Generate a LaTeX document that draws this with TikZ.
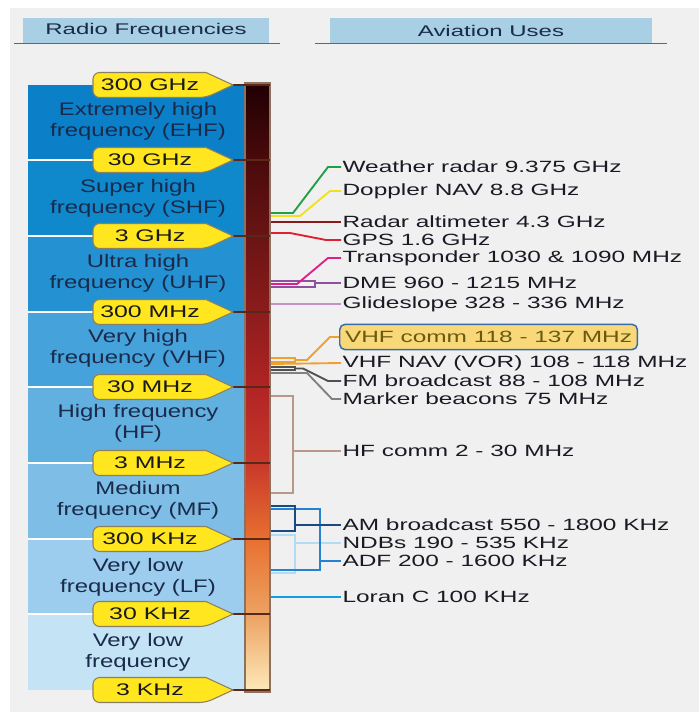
\documentclass[tikz,border=0pt]{standalone}
\usepackage{fontspec}
\setmainfont{Liberation Sans}
\newfontfamily\labf{Liberation Sans}[FakeStretch=1.5]
\newfontfamily\bandf{Liberation Sans}[FakeStretch=1.32]
\newfontfamily\callf{Liberation Sans}[FakeStretch=1.48]
\newfontfamily\headf{Liberation Sans}[FakeStretch=1.55]
\definecolor{bg}{HTML}{F0F0F0}
\definecolor{hdr}{HTML}{A8CFE4}
\definecolor{bandtxt}{HTML}{1A2A4A}
\definecolor{labtxt}{HTML}{1A1A24}
\definecolor{yel}{HTML}{FFE61E}
\definecolor{yelb}{HTML}{8C8060}
\definecolor{B1}{HTML}{0B80C8}
\definecolor{B2}{HTML}{1088CC}
\definecolor{B3}{HTML}{2492D2}
\definecolor{B4}{HTML}{46A2DA}
\definecolor{B5}{HTML}{62B0E0}
\definecolor{B6}{HTML}{7EBDE6}
\definecolor{B7}{HTML}{9CCDEE}
\definecolor{B8}{HTML}{C4E4F6}
\definecolor{g0}{HTML}{200003}
\definecolor{g1}{HTML}{4A0A0A}
\definecolor{g2}{HTML}{6A1414}
\definecolor{g3}{HTML}{8C1C1C}
\definecolor{g4}{HTML}{B02424}
\definecolor{g5}{HTML}{C8382A}
\definecolor{g6}{HTML}{E87030}
\definecolor{g7}{HTML}{ECA262}
\definecolor{g8}{HTML}{FDEABB}
\definecolor{barb}{HTML}{8C7060}
\definecolor{bline}{HTML}{5A2818}
\definecolor{cGreen}{HTML}{20A040}
\definecolor{cYel}{HTML}{F0E020}
\definecolor{cMaroon}{HTML}{8A1A1A}
\definecolor{cRed}{HTML}{E02030}
\definecolor{cMag}{HTML}{E0208A}
\definecolor{cPur}{HTML}{9050A0}
\definecolor{cGlide}{HTML}{C890C8}
\definecolor{cOr}{HTML}{F0A030}
\definecolor{cFM}{HTML}{505050}
\definecolor{cMB}{HTML}{808080}
\definecolor{cHF}{HTML}{B89888}
\definecolor{cAM}{HTML}{1A4A80}
\definecolor{cADF}{HTML}{2880D0}
\definecolor{cNDB}{HTML}{B0DCF4}
\definecolor{cLor}{HTML}{10A0E0}
\definecolor{vhfbox}{HTML}{F8D878}
\definecolor{vhfbord}{HTML}{3A6AA8}
\definecolor{vhftxt}{HTML}{6A5A10}
\begin{document}
\begin{tikzpicture}[x=0.75pt,y=-0.75pt,
  hdrtxt/.style={inner sep=1pt,text=bandtxt,font=\headf\fontsize{11.6}{14}\selectfont},
  hline/.style={draw=black!60,line width=0.8pt},
  bandtxt/.style={align=center,inner sep=1pt,text=bandtxt,font=\bandf\fontsize{13.6}{15.5}\selectfont},
  lab/.style={anchor=west,inner sep=1pt,text=labtxt,font=\labf\fontsize{12.2}{14}\selectfont},
  callbox/.style={fill=yel,draw=yelb,line width=0.8pt},
  calltxt/.style={inner sep=1pt,text=black!90,font=\callf\fontsize{12.6}{14}\selectfont},
  conn/.style={line width=1.4pt},
  bndline/.style={draw=bline,line width=1.3pt},
  wline/.style={draw=white,line width=1.2pt}]
\useasboundingbox (0,0) rectangle (699,712);
\fill[bg] (10,8) rectangle (699,712);
% headers
\fill[hdr] (23,18) rectangle (269,43);
\node[hdrtxt] (h1) at (146,30.5) {Radio Frequencies};
\draw[hline] (14,43.5) -- (280,43.5);
\fill[hdr] (330,18) rectangle (652,43);
\node[hdrtxt] (h2) at (491,30.5) {Aviation Uses};
\draw[hline] (315,43.5) -- (667,43.5);
% bands
\fill[B1] (28,85) rectangle (245,160);
\fill[B2] (28,160) rectangle (245,236);
\fill[B3] (28,236) rectangle (245,312);
\fill[B4] (28,312) rectangle (245,387);
\fill[B5] (28,387) rectangle (245,463);
\fill[B6] (28,463) rectangle (245,539);
\fill[B7] (28,539) rectangle (245,614);
\fill[B8] (28,614) rectangle (245,690);
\node[bandtxt] (b1) at (138,121) {Extremely high\\frequency (EHF)};
\node[bandtxt] (b2) at (138,198) {Super high\\frequency (SHF)};
\node[bandtxt] (b3) at (138,273) {Ultra high\\frequency (UHF)};
\node[bandtxt] (b4) at (138,348) {Very high\\frequency (VHF)};
\node[bandtxt] (b5) at (138,423) {High frequency\\(HF)};
\node[bandtxt] (b6) at (138,500) {Medium\\frequency (MF)};
\node[bandtxt] (b7) at (138,577) {Very low\\frequency (LF)};
\node[bandtxt] (b8) at (138,652) {Very low\\frequency};
% bar
\shade[top color=g0,bottom color=g1] (245,83) rectangle (270,160);
\shade[top color=g1,bottom color=g2] (245,159.8) rectangle (270,236);
\shade[top color=g2,bottom color=g3] (245,235.8) rectangle (270,312);
\shade[top color=g3,bottom color=g4] (245,311.8) rectangle (270,387);
\shade[top color=g4,bottom color=g5] (245,386.8) rectangle (270,463);
\shade[top color=g5,bottom color=g6] (245,462.8) rectangle (270,539);
\shade[top color=g6,bottom color=g7] (245,538.8) rectangle (270,614);
\shade[top color=g7,bottom color=g8] (245,613.8) rectangle (270,692);
\draw[barb,line width=0.9pt] (245,83) rectangle (270,692);
% boundaries and callouts
\foreach \y in {160,236,312,387,463,539,614}{
  \draw[wline] (28,\y) -- (95,\y);
}
\foreach \y/\t/\n in {85/300 GHz/1,160/30 GHz/2,236/3 GHz/3,312/300 MHz/4,387/30 MHz/5,463/3 MHz/6,539/300 KHz/7,614/30 KHz/8,690/3 KHz/9}{
  \draw[bndline] (232,\y) -- (270,\y);
  \draw[callbox] (233,\y) -- (206,\y-12.5) [rounded corners=5pt] -- (93,\y-12.5) -- (93,\y+12.5) -- (206,\y+12.5) [sharp corners] -- cycle;
  \node[calltxt] (c\n) at (150,\y) {\t};
}
% labels
\node[lab] (W) at (341,167) {Weather radar 9.375 GHz};
\node[lab] (D) at (341,191) {Doppler NAV 8.8 GHz};
\node[lab] (RA) at (341,222) {Radar altimeter 4.3 GHz};
\node[lab] (GPS) at (341,240) {GPS 1.6 GHz};
\node[lab] (T) at (341,258) {Transponder 1030 \& 1090 MHz};
\node[lab] (DME) at (341,283) {DME 960 - 1215 MHz};
\node[lab] (GS) at (341,304) {Glideslope 328 - 336 MHz};
\node[lab,draw=vhfbord,fill=vhfbox,text=vhftxt,line width=1.1pt,rounded corners=4pt,inner xsep=4pt,minimum height=19pt] (VC) at (339,337) {VHF comm 118 - 137 MHz};
\node[lab] (VN) at (341,363) {VHF NAV (VOR) 108 - 118 MHz};
\node[lab] (FM) at (341,381) {FM broadcast 88 - 108 MHz};
\node[lab] (MB) at (341,399) {Marker beacons 75 MHz};
\node[lab] (HF) at (341,451) {HF comm 2 - 30 MHz};
\node[lab] (AM) at (341,525) {AM broadcast 550 - 1800 KHz};
\node[lab] (NDB) at (341,543) {NDBs 190 - 535 KHz};
\node[lab] (ADF) at (341,561) {ADF 200 - 1600 KHz};
\node[lab] (LC) at (341,597) {Loran C 100 KHz};
% connectors
\draw[conn,cGreen] (271,213) -- (293,213) -- (328,167) -- (W.west);
\draw[conn,cYel] (271,216) -- (300,216) -- (330,191) -- (D.west);
\draw[conn,cMaroon] (271,222) -- (RA.west);
\draw[conn,cRed] (271,233) -- (290,233) -- (326,240) -- (GPS.west);
\draw[conn,cPur,line width=1.2pt] (271,281) -- (315,281) -- (315,287) -- (271,287);
\draw[conn,cPur,line width=1.2pt] (315,283) -- (DME.west);
\draw[conn,cMag] (271,284) -- (297,284) -- (328,258) -- (T.west);
\draw[conn,cGlide] (271,304) -- (GS.west);
\draw[conn,cOr,line width=1.2pt] (271,358) -- (295,358) -- (295,362) -- (271,362);
\draw[conn,cOr] (295,360) -- (307,360) -- (330,337) -- (VC.west);
\draw[conn,cOr] (271,364) -- (VN.west);
\draw[conn,cFM,line width=1.2pt] (271,367) -- (295,367) -- (295,370) -- (271,370);
\draw[conn,cFM] (295,368.5) -- (303,368.5) -- (328,381) -- (FM.west);
\draw[conn,cMB] (271,373) -- (307,373) -- (332,399) -- (MB.west);
\draw[conn,cHF] (271,396) -- (293,396) -- (293,493) -- (271,493);
\draw[conn,cHF] (293,451) -- (HF.west);
\draw[conn,cNDB] (271,535) -- (295,535) -- (295,573) -- (271,573);
\draw[conn,cNDB] (295,543) -- (NDB.west);
\draw[conn,cADF] (271,509) -- (320,509) -- (320,570) -- (271,570);
\draw[conn,cADF] (320,561) -- (ADF.west);
\draw[conn,cAM] (271,506) -- (295,506) -- (295,531) -- (271,531);
\draw[conn,cAM] (295,525) -- (AM.west);
\draw[conn,cLor] (271,597) -- (LC.west);
\end{tikzpicture}
\end{document}
